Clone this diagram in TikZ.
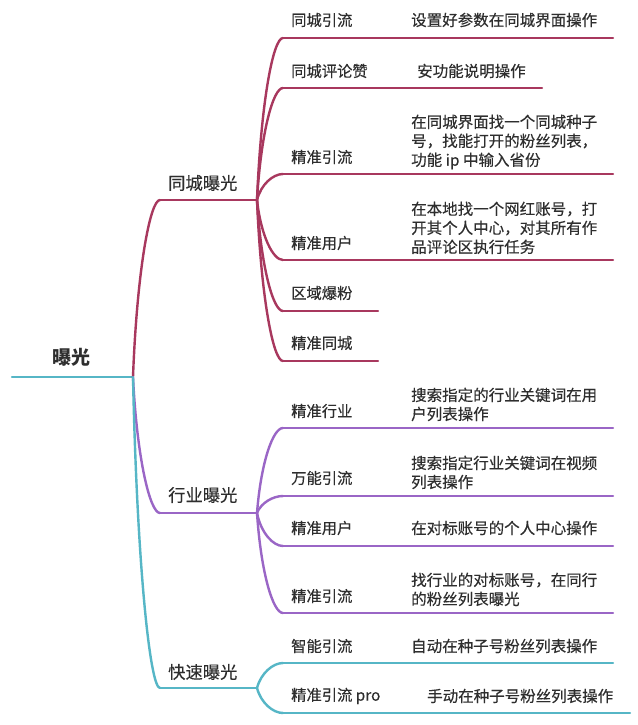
\documentclass[tikz,border=0pt]{standalone}
\usepackage{fontspec}
\setmainfont{Noto Sans CJK SC}[FakeBold=0.3]
\newfontfamily\rootfont{Noto Sans CJK SC}
\usetikzlibrary{calc}
\definecolor{cred}{HTML}{A8385E}
\definecolor{cpur}{HTML}{9A66C6}
\definecolor{ccyan}{HTML}{56B6C6}
\definecolor{textc}{HTML}{2E2E2E}
\begin{document}
\begin{tikzpicture}[x=1pt,y=-1pt,
  br/.style={line width=2.4pt, line cap=round},
  conn/.style={line width=2.4pt, line cap=round, to path={.. controls ($(\tikztostart)!0.6!(\tikztostart|-\tikztotarget)+(4,0)$) and ($(\tikztotarget)+(-10,0)$) .. (\tikztotarget)}},
  rootlab/.style={inner sep=0, font=\rootfont\fontsize{19}{22}\selectfont\bfseries, text=textc},
  onelab/.style={anchor=west, inner sep=0, font=\fontsize{17.3}{20}\selectfont, text=textc},
  lab/.style={anchor=west, inner sep=0, font=\fontsize{15.3}{19}\selectfont, text=textc},
  dsc/.style={anchor=west, inner sep=0, font=\fontsize{15.5}{19}\selectfont, text=textc},
  desc/.style={anchor=north west, inner sep=0, align=left, font=\fontsize{15.5}{19}\selectfont, text=textc}]
\useasboundingbox (0,0) rectangle (637,725);
\fill[white] (0,0) rectangle (637,725);

% coordinates
\coordinate (r0) at (12,377);
\coordinate (r1) at (133,377);
\coordinate (a0) at (160,200); \coordinate (a1) at (257,200);
\coordinate (b0) at (160,513); \coordinate (b1) at (257,513);
\coordinate (c0) at (160,688); \coordinate (c1) at (257,688);

\coordinate (a1s) at (283,38);  \coordinate (a1e) at (613,38);
\coordinate (a2s) at (283,88);  \coordinate (a2e) at (542,88);
\coordinate (a3s) at (283,174); \coordinate (a3e) at (613,174);
\coordinate (a4s) at (283,260); \coordinate (a4e) at (613,260);
\coordinate (a5s) at (283,311); \coordinate (a5e) at (378,311);
\coordinate (a6s) at (283,361); \coordinate (a6e) at (378,361);

\coordinate (b1s) at (283,428); \coordinate (b1e) at (613,428);
\coordinate (b2s) at (283,496); \coordinate (b2e) at (613,496);
\coordinate (b3s) at (283,546); \coordinate (b3e) at (613,546);
\coordinate (b4s) at (283,613); \coordinate (b4e) at (613,613);

\coordinate (c1s) at (283,663); \coordinate (c1e) at (613,663);
\coordinate (c2s) at (283,713); \coordinate (c2e) at (630,713);

% root
\draw[br, ccyan] (r0) -- (r1);
\node[rootlab] (root) at (71,357) {曝光};

% branch A
\draw[conn, cred] (r1) to (a0);
\draw[br, cred] (a0) -- (a1);
\foreach \c in {a1,a2,a3,a4,a5,a6}{
  \draw[conn, cred] (a1) to (\c s);
  \draw[br, cred] (\c s) -- (\c e);
}
% branch B
\draw[conn, cpur] (r1) to (b0);
\draw[br, cpur] (b0) -- (b1);
\foreach \c in {b1,b2,b3,b4}{
  \draw[conn, cpur] (b1) to (\c s);
  \draw[br, cpur] (\c s) -- (\c e);
}
% branch C
\draw[conn, ccyan] (r1) to (c0);
\draw[br, ccyan] (c0) -- (c1);
\foreach \c in {c1,c2}{
  \draw[conn, ccyan] (c1) to (\c s);
  \draw[br, ccyan] (\c s) -- (\c e);
}

% level 1 labels
\node[onelab] (la) at (168,183) {同城曝光};
\node[onelab] (lb) at (168,495) {行业曝光};
\node[onelab] (lc) at (168,672) {快速曝光};

% level 2 labels
\node[lab] (la1) at (291,20) {同城引流};
\node[lab] (la2) at (291,71) {同城评论赞};
\node[lab] (la3) at (291,157) {精准引流};
\node[lab] (la4) at (291,243) {精准用户};
\node[lab] (la5) at (291,293) {区域爆粉};
\node[lab] (la6) at (291,343) {精准同城};

\node[lab] (lb1) at (291,411) {精准行业};
\node[lab] (lb2) at (291,478) {万能引流};
\node[lab] (lb3) at (291,528) {精准用户};
\node[lab] (lb4) at (291,596) {精准引流};

\node[lab] (lc1) at (291,646) {智能引流};
\node[lab] (lc2) at (291,696) {精准引流 pro};

% descriptions
\node[dsc] (da1) at (411,20) {设置好参数在同城界面操作};
\node[dsc] (da2) at (417,71) {安功能说明操作};
\node[desc] (da3) at (411,114.5) {在同城界面找一个同城种子\\号，找能打开的粉丝列表，\\功能 ip 中输入省份};
\node[desc] (da4) at (411,201.5) {在本地找一个网红账号，打\\开其个人中心，对其所有作\\品评论区执行任务};

\node[desc] (db1) at (411,387.5) {搜索指定的行业关键词在用\\户列表操作};
\node[desc] (db2) at (411,455.5) {搜索指定行业关键词在视频\\列表操作};
\node[dsc] (db3) at (411,528) {在对标账号的个人中心操作};
\node[desc] (db4) at (411,572.5) {找行业的对标账号，在同行\\的粉丝列表曝光};

\node[dsc] (dc1) at (411,646) {自动在种子号粉丝列表操作};
\node[dsc] (dc2) at (427,696) {手动在种子号粉丝列表操作};
\end{tikzpicture}
\end{document}
